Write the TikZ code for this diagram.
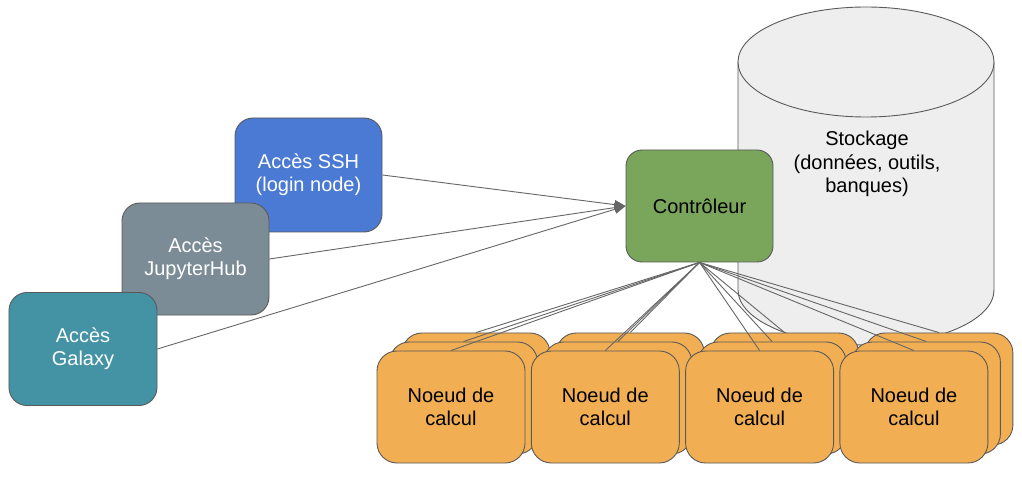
\documentclass[tikz,border=0pt]{standalone}
\usepackage{fontspec}
\setmainfont{Liberation Sans}
\usetikzlibrary{arrows.meta}
\definecolor{edgegray}{HTML}{5A5A5A}
\definecolor{linegray}{HTML}{666666}
\definecolor{sshblue}{HTML}{4A7AD3}
\definecolor{jupgray}{HTML}{7C8C96}
\definecolor{galteal}{HTML}{4493A5}
\definecolor{ctrlgreen}{HTML}{79A65A}
\definecolor{nodeorange}{HTML}{F1AE52}
\definecolor{cylfill}{HTML}{EEEEEE}
\begin{document}
\begin{tikzpicture}[x=1bp,y=-1bp,
  box/.style={draw=edgegray, line width=0.9bp, rounded corners=18bp,
    minimum width=148bp, minimum height=113bp, inner sep=0pt, align=center,
    font=\fontsize{20bp}{23bp}\selectfont},
  access/.style={box, text=white},
  compute/.style={box, fill=nodeorange, rounded corners=20bp, minimum height=112bp},
  conn/.style={draw=linegray, line width=0.9bp},
  arr/.style={conn, -{Triangle[length=11bp,width=9bp]}}
]
\useasboundingbox (0,0) rectangle (1022,478);
\fill[white] (0,0) rectangle (1022,478);

% storage cylinder
\fill[cylfill] (738,62) -- (738,290) arc[start angle=180,end angle=0,x radius=128,y radius=55] -- (994,62) -- cycle;
\draw[draw=edgegray, line width=0.9bp] (738,62) -- (738,290) arc[start angle=180,end angle=0,x radius=128,y radius=55] -- (994,62);
\draw[draw=edgegray, line width=0.9bp, fill=cylfill] (866,62) ellipse [x radius=128, y radius=55];
\node[align=center, font=\fontsize{20bp}{23.5bp}\selectfont] (stock) at (867,164) {Stockage\\(données, outils,\\banques)};

% access nodes
\node[access, fill=sshblue, minimum width=147bp, minimum height=114bp] (ssh) at (308.5,175) {Accès SSH\\(login node)};
\node[access, fill=jupgray, minimum width=147bp, minimum height=112bp] (jup) at (195.5,259) {Accès\\JupyterHub};
\node[access, fill=galteal] (gal) at (83,349) {Accès\\Galaxy};

% controller
\node[box, fill=ctrlgreen, minimum width=147bp, minimum height=112bp, rounded corners=16bp] (ctrl) at (699.5,206) {Contrôleur};

\draw[arr] (ssh.east) -- (ctrl.west);
\draw[arr] (jup.east) -- (ctrl.west);
\draw[arr] (gal.east) -- (ctrl.west);

% compute nodes
\foreach \i in {0,1,2,3}{
  \pgfmathsetmacro{\cx}{451+154.3*\i}
  \node[compute] (c\i2) at ({\cx+25},389) {};
  \node[compute] (c\i1) at ({\cx+12.5},398) {};
  \node[compute] (c\i0) at (\cx,407) {Noeud de\\calcul};
}
\foreach \i in {0,1,2,3}{
  \foreach \k in {0,1,2}{
    \draw[conn] (ctrl.south) -- (c\i\k.north);
  }
}
\end{tikzpicture}
\end{document}
